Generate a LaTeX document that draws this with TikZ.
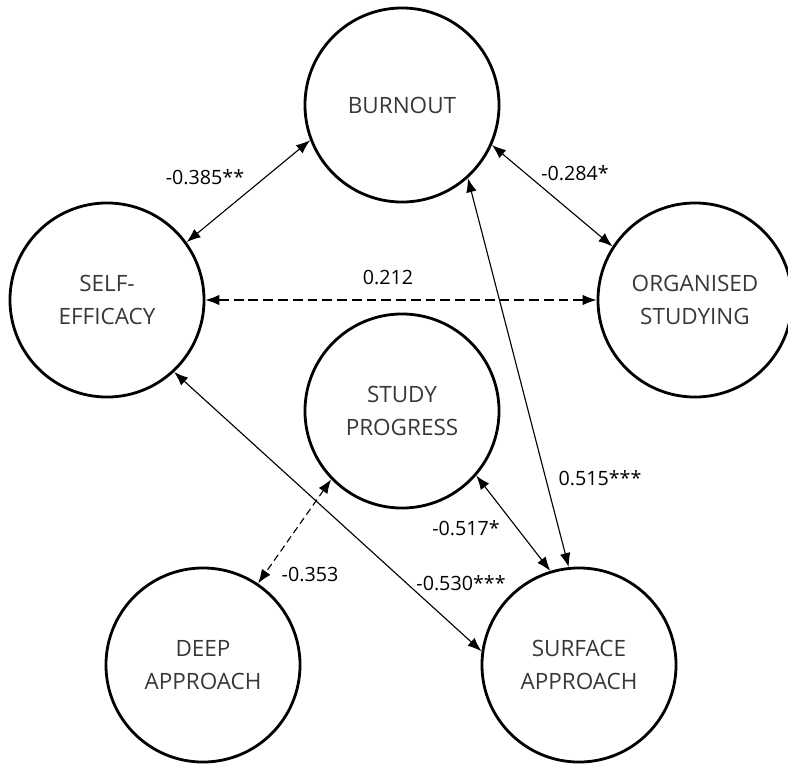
\documentclass[tikz,border=0pt]{standalone}
\usepackage{fontspec}
\setmainfont{Open Sans}
\usetikzlibrary{arrows.meta, positioning}

\begin{document}
\begin{tikzpicture}[x=0.025cm, y=-0.025cm,
    construct/.style={circle, draw, line width=2pt, minimum size=4.85cm, inner sep=0pt,
        align=center, text=black!78, font=\fontsize{16}{23}\selectfont},
    corr/.style={<->, >={Latex[length=10pt, width=7.5pt]}, line width=0.8pt},
    coef/.style={font=\fontsize{14}{16}\selectfont}]
    \useasboundingbox (0,0) rectangle (788,763);

    \node[construct] (burn) at (402,105) {BURNOUT};
    \node[construct] (self) at (107,300) {SELF-\\EFFICACY};
    \node[construct] (org) at (695,300) {ORGANISED\\STUDYING};
    \node[construct] (prog) at (402,411) {STUDY\\PROGRESS};
    \node[construct] (deep) at (203,665) {DEEP\\APPROACH};
    \node[construct] (surf) at (579,665) {SURFACE\\APPROACH};

    \path[corr]
    (self.36.5) edge (burn.201.8)
    (burn.-24.4) edge (org.147.7)
    (self.0) edge[dash pattern=on 7pt off 3.5pt] (org.180)
    (burn.-48.8) edge (surf.96.8)
    (prog.-41.9) edge (surf.107.6)
    (prog.-136.6) edge[dash pattern=on 5pt off 3pt] (deep.56.8)
    (self.-47.6) edge (surf.172.7);

    % coefficients
    \node[coef] (c1) at (205,177) {-0.385**};
    \node[coef] (c2) at (575,173) {-0.284*};
    \node[coef] (c3) at (388,277) {0.212};
    \node[coef] (c4) at (600,478) {0.515***};
    \node[coef] (c5) at (466,528) {-0.517*};
    \node[coef] (c6) at (310,574) {-0.353};
    \node[coef] (c7) at (461,583) {-0.530***};
\end{tikzpicture}
\end{document}
